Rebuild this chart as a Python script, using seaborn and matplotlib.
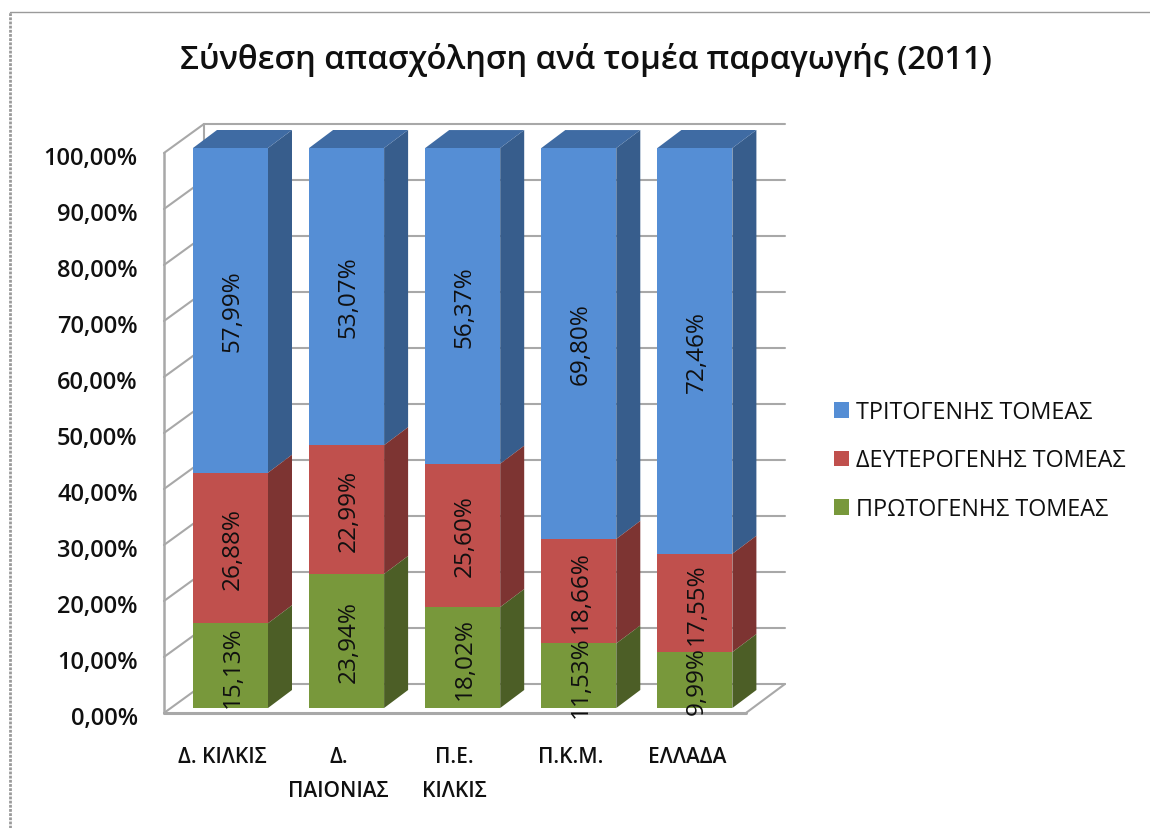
#!/usr/bin/env python

import seaborn as sns
from matplotlib import pyplot as plt
from matplotlib.lines import Line2D
from matplotlib.patches import Patch, Polygon
from matplotlib.transforms import ScaledTranslation

categories = ['Δ. ΚΙΛΚΙΣ', 'Δ.\nΠΑΙΟΝΙΑΣ', 'Π.Ε.\nΚΙΛΚΙΣ', 'Π.Κ.Μ.', 'ΕΛΛΑΔΑ']
primary = [15.13, 23.94, 18.02, 11.53, 9.99]
secondary = [26.88, 22.99, 25.60, 18.66, 17.55]
tertiary = [57.99, 53.07, 56.37, 69.80, 72.46]
y_ticks = [0, 10, 20, 30, 40, 50, 60, 70, 80, 90, 100]
y_labels = ['0,00%', '10,00%', '20,00%', '30,00%', '40,00%', '50,00%',
            '60,00%', '70,00%', '80,00%', '90,00%', '100,00%']
title = 'Σύνθεση απασχόληση ανά τομέα παραγωγής (2011)'
legend_names = ['ΤΡΙΤΟΓΕΝΗΣ ΤΟΜΕΑΣ', 'ΔΕΥΤΕΡΟΓΕΝΗΣ ΤΟΜΕΑΣ', 'ΠΡΩΤΟΓΕΝΗΣ ΤΟΜΕΑΣ']

W, H = 1150, 829
SLOT_PX = 116.1
X_PX = 1.0 / SLOT_PX
Y_PX = 100.0 / 560
BLUE = ('#558ed5', '#375d8c', '#3f6ba3')
RED = ('#c0504d', '#7d3432', '#96403d')
GREEN = ('#78983b', '#4c5e26', '#5c742d')
GRID = '#a8a8a8'
INK = '#101010'
FONT = 'Open Sans'

sns.set_theme(style='white')
plt.rcParams['font.family'] = [FONT, 'DejaVu Sans']

fig = plt.figure(figsize=(W / 100, H / 100), dpi=100, facecolor='white')
ax = fig.add_axes([172.45 / W, 1 - 709 / H, 5 * SLOT_PX / W, 560 / H])
ax.patch.set_visible(False)

# stacked bars, tallest first so the shorter ones sit on top
totals_2 = [a + b for a, b in zip(primary, secondary)]
totals_3 = [a + b for a, b in zip(totals_2, tertiary)]
layers = [(totals_3, totals_2, tertiary, BLUE),
          (totals_2, primary, secondary, RED),
          (primary, [0] * 5, primary, GREEN)]
for tops, _, _, colors in layers:
    sns.barplot(x=categories, y=tops, color=colors[0], saturation=1, width=0.646,
                linewidth=0, ax=ax, zorder=3)

ax.set_xlim(-0.5, 4.5)
ax.set_ylim(0, 100)
half = 0.646 / 2
dx = 24 * X_PX
dy = 18 * Y_PX


def poly(points, color, z):
    ax.add_patch(Polygon(points, closed=True, facecolor=color, edgecolor='none', clip_on=False, zorder=z))


def seg(xs, ys, lw=1.5, z=1):
    ax.add_line(Line2D(xs, ys, color=GRID, lw=lw, clip_on=False, zorder=z))


# side and top faces
for tops, bottoms, values, colors in layers:
    for i in range(len(categories)):
        r = i + half
        poly([(r, bottoms[i]), (r + dx, bottoms[i] + dy), (r + dx, tops[i] + dy), (r, tops[i])], colors[1], 2)
        if colors == BLUE:
            l = i - half
            poly([(l, tops[i]), (l + dx, tops[i] + dy), (r + dx, tops[i] + dy), (r, tops[i])], colors[2], 2)
        ax.text(i + 2 * X_PX, bottoms[i] + values[i] / 2, f'{values[i]:.2f}%'.replace('.', ','),
                rotation=90, ha='center', va='center', fontsize=17.5, color=INK, zorder=5)

# walls and floor
fx_l = -0.5 - 8.5 * X_PX
fx_r = fx_l + 582 * X_PX
bx_l = fx_l + 40 * X_PX
bx_r = fx_r + 39 * X_PX
front = -5 * Y_PX
back = 24 * Y_PX
for t in y_ticks:
    seg([fx_l, bx_l], [t + front, t + back])
    seg([bx_l, bx_r], [t + back, t + back])
seg([fx_l, fx_l], [front, 100 + front], lw=1.8)
seg([bx_l, bx_l], [back, 100 + back])
seg([fx_l, fx_r], [front, front], lw=2.2)
seg([fx_r, bx_r], [front, back])

# axis text
ax.set_yticks(y_ticks, y_labels, fontsize=17, color=INK, fontweight='semibold')
ax.set_xticks(range(5), categories, fontsize=15, color=INK, fontweight='semibold', linespacing=1.8)
ax.tick_params(axis='y', length=0, pad=25)
ax.tick_params(axis='x', length=0, pad=27.5)
for lab in ax.get_yticklabels():
    lab.set_transform(lab.get_transform() + ScaledTranslation(0, -7 / 100, fig.dpi_scale_trans))
for lab in ax.get_xticklabels():
    lab.set_transform(lab.get_transform() + ScaledTranslation(-8 / 100, 0, fig.dpi_scale_trans))
sns.despine(ax=ax, left=True, bottom=True)

fig.text(586 / W, 1 - 60 / H, title, ha='center', va='center', fontsize=23.5, fontweight='semibold', color=INK)

handles = [Patch(facecolor=c[0], edgecolor='none') for c in (BLUE, RED, GREEN)]
fig.legend(handles, legend_names, loc='center left', bbox_to_anchor=(813 / W, 1 - 461.5 / H), frameon=False,
           fontsize=16.8, handlelength=0.64, handleheight=0.64, handletextpad=0.3, labelspacing=1.05,
           labelcolor=INK)

# dotted outer frame of the screenshot
fig.add_artist(Line2D([10 / W, 10 / W], [0, 1 - 13 / H], color='#9a9a9a', lw=2, ls=(0, (1, 0.5))))
fig.add_artist(Line2D([10 / W, 1], [1 - 13 / H, 1 - 13 / H], color='#9a9a9a', lw=1))

fig.savefig('out.png', dpi=100, facecolor='white')
